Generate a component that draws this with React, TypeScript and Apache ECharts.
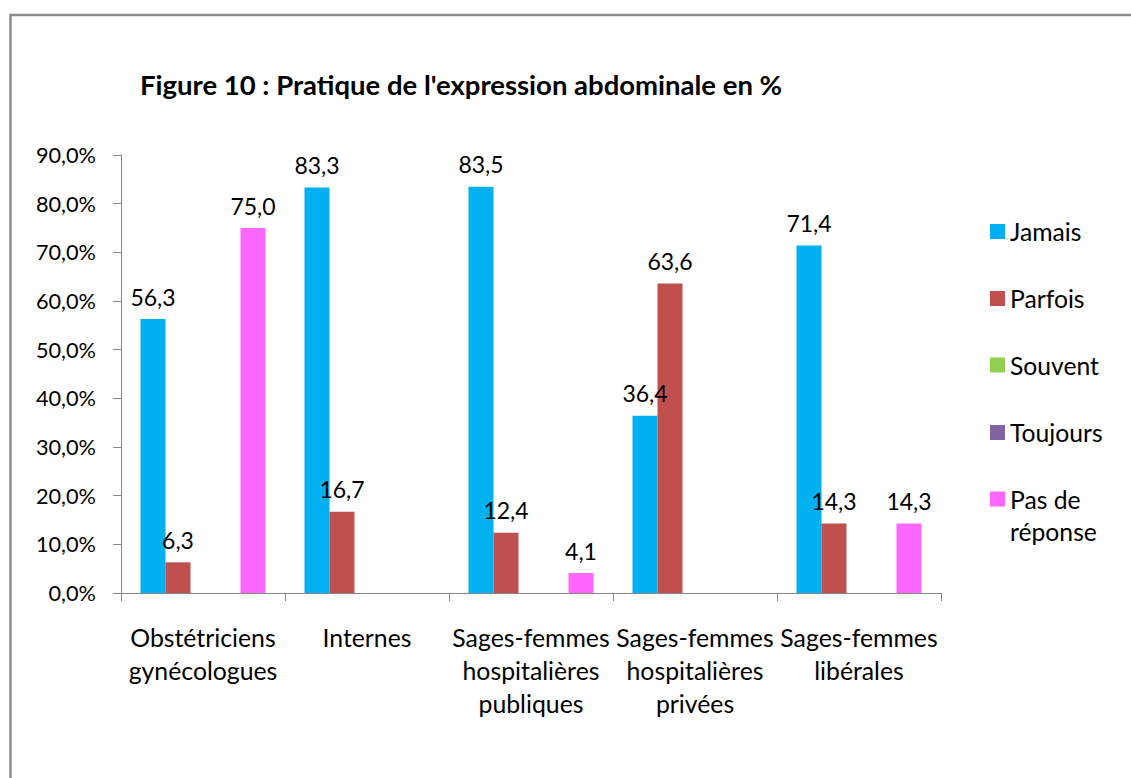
import React, { useEffect, useRef } from "react";
import * as echarts from "echarts";

const TITLE = "Figure 10 : Pratique de l'expression abdominale en %";
const categories = [
  "Obstétriciens\ngynécologues",
  "Internes",
  "Sages-femmes\nhospitalières\npubliques",
  "Sages-femmes\nhospitalières\nprivées",
  "Sages-femmes\nlibérales",
];
const seriesNames = ["Jamais", "Parfois", "Souvent", "Toujours", "Pas de réponse"];
const jamais = [56.3, 83.3, 83.5, 36.4, 71.4];
const parfois = [6.3, 16.7, 12.4, 63.6, 14.3];
const souvent = [null, null, null, null, null];
const toujours = [null, null, null, null, null];
const pasDeReponse = [75.0, null, 4.1, null, 14.3];
const colors = ["#00B0F0", "#C0504D", "#92D050", "#8064A2", "#FF66FF"];
const yTicks = { min: 0, max: 90, interval: 10 };

const FONT = "Lato";

export default function App() {
  const ref = useRef<HTMLDivElement>(null);
  useEffect(() => {
    if (!ref.current) return;
    const chart = echarts.init(ref.current, null, { renderer: "svg" });
    const values = [jamais, parfois, souvent, toujours, pasDeReponse];
    const legendTops = [216.5, 283.5, 350, 417.5, 451];
    const legends = seriesNames.map((name, i) => {
      const last = i === seriesNames.length - 1;
      return {
        data: [name],
        orient: "vertical",
        left: 990,
        top: legendTops[i],
        padding: 0,
        itemWidth: 15,
        itemHeight: 15,
        icon: "rect",
        selectedMode: false,
        formatter: (n: string) => (n === "Pas de réponse" ? "\nPas de\nréponse" : n),
        textStyle: {
          fontFamily: FONT,
          fontSize: 24.7,
          color: "#000",
          lineHeight: last ? 32 : 30,
        },
      };
    });
    chart.setOption({
      animation: false,
      color: colors,
      title: {
        text: TITLE,
        left: 140,
        top: 70,
        padding: 0,
        textStyle: { fontFamily: FONT, fontWeight: "bold", fontSize: 27.5, color: "#000" },
      },
      graphic: [
        {
          type: "rect",
          shape: { x: 10.5, y: 15, width: 1300, height: 1000 },
          style: { fill: "none", stroke: "#8c8c8c", lineWidth: 2.5 },
          silent: true,
        },
      ],
      legend: legends,
      grid: { left: 121, right: 190, top: 155, bottom: 185, containLabel: false },
      xAxis: {
        type: "category",
        data: categories,
        axisLine: { lineStyle: { color: "#868686", width: 1 } },
        axisTick: { show: true, length: 8, lineStyle: { color: "#868686" } },
        axisLabel: {
          interval: 0,
          margin: 28,
          fontFamily: FONT,
          fontSize: 24.8,
          lineHeight: 33,
          color: "#000",
        },
      },
      yAxis: {
        type: "value",
        min: yTicks.min,
        max: yTicks.max,
        interval: yTicks.interval,
        axisLine: { show: true, lineStyle: { color: "#868686", width: 1 } },
        axisTick: { show: true, length: 8, lineStyle: { color: "#868686" } },
        splitLine: { show: false },
        axisLabel: {
          margin: 25,
          fontFamily: FONT,
          fontSize: 21.7,
          color: "#000",
          formatter: (v: number) => v.toFixed(1).replace(".", ",") + "%",
        },
      },
      series: seriesNames.map((name, i) => ({
        name,
        type: "bar",
        data: values[i],
        barWidth: 25,
        barGap: "0%",
        itemStyle: { color: colors[i] },
        label: {
          show: true,
          position: "top",
          distance: 11,
          fontFamily: FONT,
          fontSize: 23,
          color: "#000",
          formatter: (p: any) =>
            p.value == null ? "" : Number(p.value).toFixed(1).replace(".", ","),
        },
      })),
    });
    return () => chart.dispose();
  }, []);
  return (
    <div
      ref={ref}
      style={{ position: "absolute", left: 0, top: 0, width: 1131, height: 778, background: "#fff" }}
    />
  );
}
